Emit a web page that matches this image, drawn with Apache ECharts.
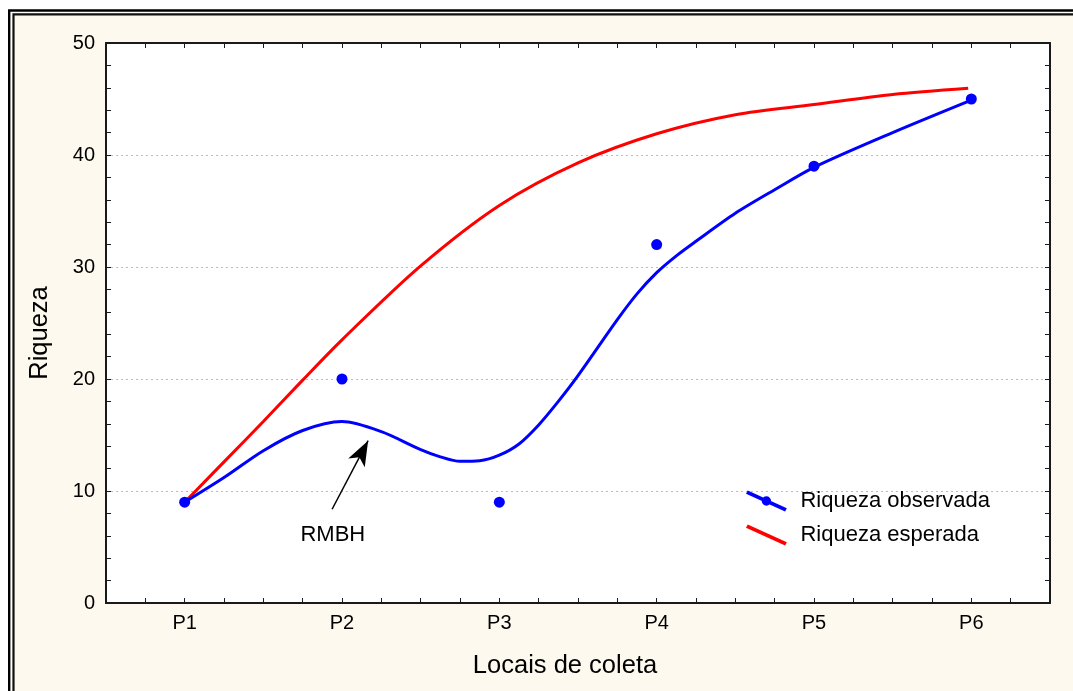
<!DOCTYPE html>
<html>
<head>
<meta charset="utf-8">
<style>html,body{margin:0;padding:0;background:#fff;}#c{width:1073px;height:691px;}</style>
<script src="https://cdn.jsdelivr.net/npm/echarts@6/dist/echarts.min.js"></script>
</head>
<body>
<div id="c"></div>
<script>
// ---- data ----
var categories = ['P1', 'P2', 'P3', 'P4', 'P5', 'P6'];
var observed = [9, 20, 9, 32, 39, 45];
var obsCurveX = [0, 0.25, 0.5, 0.75, 1.0, 1.25, 1.5, 1.625, 1.75, 1.875, 2.0, 2.125, 2.25, 2.375, 2.5, 2.75, 2.875, 3.0, 3.125, 3.25, 3.5, 3.75, 4.0, 4.5, 5.0];
var obsCurveY = [9, 11.2, 13.6, 15.4, 16.2, 15.3, 13.7, 13.05, 12.65, 12.7, 13.2, 14.2, 15.9, 18.0, 20.3, 25.3, 27.6, 29.5, 31.0, 32.3, 34.8, 36.9, 38.9, 42.0, 44.9];
// expected richness curve
var expCurveX = [0, 0.25, 0.5, 0.75, 1.0, 1.5, 2.0, 2.5, 3.0, 3.5, 4.0, 4.5, 4.98];
var expCurveY = [9, 12.6, 16.2, 19.9, 23.5, 30.1, 35.5, 39.3, 41.9, 43.6, 44.5, 45.4, 45.95];
var yTicks = [0, 10, 20, 30, 40, 50];
var annotText = 'RMBH';
var annotArrowFrom = [0.937, 8.37];
var annotArrowTo = [1.166, 14.49];
var annotLabelAt = [0.942, 6.07];
var legendNames = ['Riqueza observada', 'Riqueza esperada'];

function pairs(xs, ys) { return xs.map(function (x, i) { return [x, ys[i]]; }); }

var FONT = "'Liberation Sans', Arial, sans-serif";
var chart = echarts.init(document.getElementById('c'), null, { renderer: 'canvas' });

var xBase = {
  type: 'value', min: -0.5, max: 5.5, interval: 0.25,
  axisLine: { show: true, onZero: false, lineStyle: { color: '#1a1a1a', width: 2 } },
  axisTick: { show: true, inside: true, length: 5, lineStyle: { color: '#1a1a1a', width: 1 } },
  splitLine: { show: false }
};
var yBase = {
  type: 'value', min: yTicks[0], max: yTicks[yTicks.length - 1], interval: 10,
  axisLine: { show: true, onZero: false, lineStyle: { color: '#1a1a1a', width: 2 } },
  axisTick: { show: true, inside: true, length: 5, lineStyle: { color: '#1a1a1a', width: 1 } },
  minorTick: { show: true, splitNumber: 5, length: 5, lineStyle: { color: '#1a1a1a', width: 1 } }
};

var option = {
  backgroundColor: '#fdf9ee',
  animation: false,
  textStyle: { fontFamily: FONT },
  grid: { left: 106, right: 23, top: 43, bottom: 88, show: true, backgroundColor: '#ffffff', borderWidth: 0, containLabel: false },
  graphic: [
    { type: 'rect', silent: true, shape: { x: 0, y: 0, width: 1073, height: 12.6 }, style: { fill: '#ffffff' } },
    { type: 'rect', silent: true, shape: { x: 0, y: 0, width: 12.4, height: 691 }, style: { fill: '#ffffff' } },
    { type: 'polyline', silent: true, shape: { points: [[9.2, 691], [9.2, 10.5], [1073, 10.5]] }, style: { stroke: '#000', lineWidth: 2.4, fill: null } },
    { type: 'polyline', silent: true, shape: { points: [[13.5, 691], [13.5, 14.3], [1073, 14.3]] }, style: { stroke: '#111', lineWidth: 2.2, fill: null } }
  ],
  legend: {
    orient: 'vertical', left: 746, top: 490, padding: 0, itemWidth: 42, itemHeight: 21, itemGap: 12,
    textStyle: { fontSize: 22, color: '#000', fontFamily: FONT, lineHeight: 21, padding: [0, 0, 0, 8] },
    itemStyle: { borderWidth: 0 },
    data: [
      { name: legendNames[0], icon: 'path://M0,2.8 L1.8,-0.6 L42,17.6 L40.2,21 Z M16.2,10.2 A4.8,4.8 0 1,1 25.8,10.2 A4.8,4.8 0 1,1 16.2,10.2 Z' },
      { name: legendNames[1], icon: 'path://M0,2.8 L1.8,-0.6 L42,17.6 L40.2,21 Z' }
    ]
  },
  xAxis: [
    Object.assign({}, xBase, {
      position: 'bottom',
      name: 'Locais de coleta', nameLocation: 'middle', nameGap: 50,
      nameTextStyle: { fontSize: 25.5, color: '#000', fontFamily: FONT, padding: [0, 26, 0, 0] },
      axisLabel: {
        show: true, fontSize: 20, color: '#000', margin: 10, fontFamily: FONT,
        formatter: function (v) {
          var r = Math.round(v);
          return (Math.abs(v - r) < 1e-6 && categories[r]) ? categories[r] : '';
        }
      }
    }),
    Object.assign({}, xBase, { position: 'top', axisLabel: { show: false } })
  ],
  yAxis: [
    Object.assign({}, yBase, {
      position: 'left',
      name: 'Riqueza', nameLocation: 'middle', nameGap: 53,
      nameTextStyle: { fontSize: 25.5, color: '#000', fontFamily: FONT, padding: [0, 20, 0, 0] },
      axisLabel: { show: true, fontSize: 20, color: '#000', margin: 11, fontFamily: FONT },
      splitLine: { show: true, lineStyle: { color: '#bcbcbc', width: 1, type: [2, 3] } }
    }),
    Object.assign({}, yBase, { position: 'right', axisLabel: { show: false }, splitLine: { show: false } })
  ],
  series: [
    {
      name: legendNames[1], type: 'line', smooth: 0.3, symbol: 'none',
      xAxisIndex: 0, yAxisIndex: 0, z: 3,
      color: '#ff0000',
      lineStyle: { color: '#ff0000', width: 3 },
      data: pairs(expCurveX, expCurveY)
    },
    {
      name: legendNames[0], type: 'line', smooth: 0.3, symbol: 'none',
      xAxisIndex: 0, yAxisIndex: 0, z: 4,
      color: '#0000ff',
      lineStyle: { color: '#0000ff', width: 3 },
      data: pairs(obsCurveX, obsCurveY),
      markLine: {
        silent: true, animation: false,
        symbol: ['none', 'arrow'], symbolSize: [14, 25],
        lineStyle: { color: '#000', width: 1.5, type: 'solid' },
        label: { show: false },
        data: [[{ coord: annotArrowFrom }, { coord: annotArrowTo }]]
      },
      markPoint: {
        silent: true, animation: false, symbol: 'circle', symbolSize: 0,
        label: { show: true, position: 'inside', formatter: annotText, fontSize: 22, color: '#000', fontFamily: FONT },
        data: [{ coord: annotLabelAt }]
      }
    },
    {
      name: 'observados', type: 'scatter', symbol: 'circle', symbolSize: 11,
      xAxisIndex: 0, yAxisIndex: 0, z: 5,
      itemStyle: { color: '#0000ff', opacity: 1 },
      data: categories.map(function (c, i) { return [i, observed[i]]; })
    }
  ]
};
chart.setOption(option);
</script>
</body>
</html>
